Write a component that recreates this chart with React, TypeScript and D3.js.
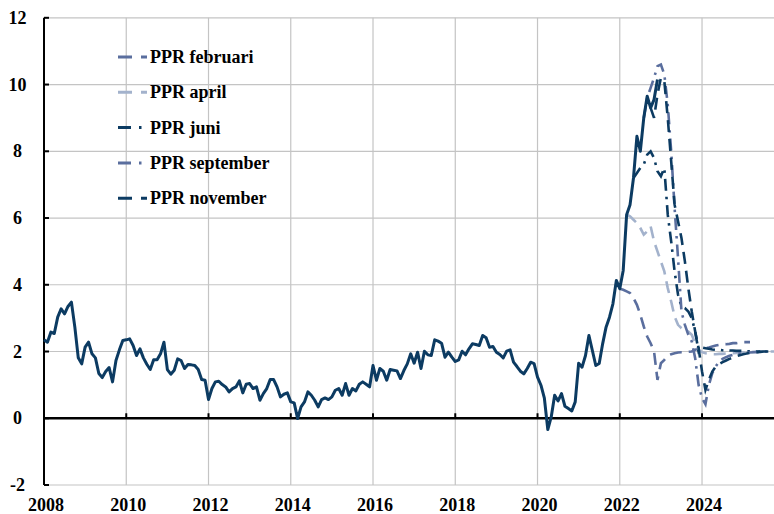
import React from 'react';
import * as d3 from 'd3';

// ---- data ----
const START_YEAR = 2008; // monthly series, index 0 = Jan 2008
const YEAR_TICKS = [2008, 2010, 2012, 2014, 2016, 2018, 2020, 2022, 2024];
const Y_TICKS = [-2, 0, 2, 4, 6, 8, 10, 12];

const OUTCOME = [
  2.35, 2.28, 2.58, 2.54, 3.03, 3.28, 3.13, 3.35, 3.48, 2.73, 1.81, 1.63,
  2.13, 2.28, 1.93, 1.81, 1.34, 1.22, 1.4, 1.52, 1.09, 1.73, 2.05, 2.33,
  2.35, 2.38, 2.18, 1.88, 2.08, 1.81, 1.62, 1.46, 1.75, 1.75, 1.93, 2.28,
  1.46, 1.32, 1.44, 1.78, 1.73, 1.49, 1.61, 1.6, 1.58, 1.46, 1.16, 1.14,
  0.56, 0.89, 1.09, 1.11, 1.01, 0.94, 0.79, 0.89, 0.94, 1.12, 0.76, 1.02,
  1.04, 0.89, 0.94, 0.54, 0.74, 0.89, 1.16, 1.16, 0.94, 0.64, 0.72, 0.76,
  0.49, 0.46, -0.01, 0.34, 0.49, 0.79, 0.69, 0.54, 0.34, 0.56, 0.61, 0.56,
  0.64, 0.84, 0.89, 0.69, 1.04, 0.69, 0.89, 0.82, 1.02, 1.09, 1.02, 0.94,
  1.58, 1.14, 1.49, 1.41, 1.14, 1.46, 1.44, 1.42, 1.19, 1.43, 1.63, 1.93,
  1.65, 1.98, 1.49, 2.01, 1.9, 1.88, 2.35, 2.31, 2.25, 1.83, 1.98, 1.83,
  1.7, 1.75, 2.01, 1.9, 2.08, 2.23, 2.21, 2.18, 2.48, 2.41, 2.13, 2.15,
  1.98, 1.91, 1.81, 2.01, 2.05, 1.68, 1.55, 1.41, 1.33, 1.49, 1.68, 1.64,
  1.23, 0.99, 0.6, -0.34, 0.04, 0.69, 0.52, 0.74, 0.36, 0.29, 0.22, 0.49,
  1.65, 1.53, 1.88, 2.48, 2.03, 1.58, 1.64, 2.23, 2.73, 3.03, 3.43, 4.13,
  3.88, 4.43, 6.1, 6.4, 7.2, 8.45, 8.0, 9.0, 9.65, 9.3, 9.55, 10.15,
];

const PPR_FEB_START = 168;
const PPR_FEB = [
  3.88, 3.85, 3.8, 3.75, 3.6, 3.4, 3.1, 2.75, 2.45, 2.25, 2.0, 1.15,
  1.65, 1.75, 1.88, 1.92, 1.95, 1.97, 1.98, 1.98, 1.99, 2.0, 2.05, 2.1,
  2.1, 2.1, 2.12, 2.15, 2.18, 2.2, 2.22, 2.22, 2.23, 2.25, 2.25, 2.27,
  2.28, 2.28, 2.28,
];

const PPR_APR_START = 170;
const PPR_APR = [
  6.1, 6.05, 5.95, 5.85, 5.7, 5.5, 5.6, 5.75, 5.3, 5.0, 4.7, 4.4,
  3.9, 3.5, 3.05, 2.8, 2.7, 2.65, 2.6, 2.5, 2.25, 2.05, 1.98, 1.95,
  1.93, 1.92, 1.92, 1.93, 1.93, 1.94, 1.95, 1.95, 1.96, 1.97, 1.97, 1.98,
  1.98, 1.99, 2.0, 2.0, 2.0, 2.0, 2.0, 2.0,
];

const PPR_JUN_START = 172;
const PPR_JUN = [
  7.2, 7.35, 7.5, 7.6, 7.9, 8.0, 7.8, 7.4, 7.25, 7.5, 6.1, 5.3,
  4.4, 3.7, 3.35, 3.3, 3.2, 3.0, 2.6, 2.0, 2.12, 2.1, 2.08, 2.06,
  2.05, 2.05, 2.04, 2.04, 2.03, 2.03, 2.02, 2.02, 2.02, 2.01, 2.01, 2.0,
  2.0, 2.0,
];

const PPR_SEP_START = 175;
const PPR_SEP = [
  9.0, 9.6, 9.9, 10.2, 10.55, 10.6, 10.3, 9.4, 8.0, 6.3, 4.8, 3.2,
  2.8, 2.5, 2.3, 1.8, 1.0, 0.6, 0.42, 1.0, 1.35, 1.55, 1.7, 1.78,
  1.83, 1.87, 1.9, 1.92, 1.94, 1.95, 1.96, 1.97, 1.98, 1.98, 1.99, 2.0,
  2.0, 2.0,
];

const PPR_NOV_START = 177;
const PPR_NOV = [
  9.3, 9.0, 9.7, 10.2, 10.1, 9.0, 7.7, 6.4, 5.9, 5.4, 4.7, 3.9,
  3.2, 2.6, 2.1, 1.4, 0.85, 1.15, 1.4, 1.55, 1.62, 1.68, 1.73, 1.78,
  1.82, 1.86, 1.89, 1.92, 1.94, 1.96, 1.97, 1.98, 1.99, 2.0, 2.0, 2.0,
  2.0,
];

const LEGEND_NAMES = ['PPR februari', 'PPR april', 'PPR juni', 'PPR september', 'PPR november'];

// ---- styles ----
const DARK = '#0c3b62';
const MID = '#5a6e9e';
const LIGHT = '#a3b2cc';
const DASH = '12,7';
const DASHDOT = '12,6,2.5,6';

const FORECASTS = [
  { name: LEGEND_NAMES[0], start: PPR_FEB_START, values: PPR_FEB, color: MID, dash: DASH, legendDash: '14,9' },
  { name: LEGEND_NAMES[1], start: PPR_APR_START, values: PPR_APR, color: LIGHT, dash: DASH, legendDash: '14,9' },
  { name: LEGEND_NAMES[2], start: PPR_JUN_START, values: PPR_JUN, color: DARK, dash: DASHDOT, legendDash: '13,8,2.5,8' },
  { name: LEGEND_NAMES[3], start: PPR_SEP_START, values: PPR_SEP, color: MID, dash: DASHDOT, legendDash: '13,8,2.5,8' },
  { name: LEGEND_NAMES[4], start: PPR_NOV_START, values: PPR_NOV, color: DARK, dash: DASH, legendDash: '14,9' },
];

export default function App() {
  const W = 774;
  const H = 514;
  const x = d3.scaleLinear().domain([2008, 2025.75]).range([44, 774]);
  const y = d3.scaleLinear().domain([-2, 12]).range([485, 17.8]);
  const t = (i: number) => START_YEAR + i / 12;
  const line = d3
    .line<[number, number]>()
    .x((d) => x(d[0]))
    .y((d) => y(d[1]));

  const outcomePts: [number, number][] = OUTCOME.map((v, i) => [t(i), v]);
  const font = "'Liberation Serif', 'Times New Roman', serif";
  const [x0, x1] = x.range();
  const [yb, yt] = y.range();

  return (
    <svg
      width={W}
      height={H}
      style={{ position: 'absolute', left: 0, top: 0, background: '#fff' }}
      fontFamily={font}
    >
      {/* grid */}
      {Y_TICKS.map((v) => (
        <line key={'gy' + v} x1={x0} x2={x1} y1={y(v)} y2={y(v)} stroke="#c4c4c4" strokeWidth={1.2} />
      ))}
      {YEAR_TICKS.filter((yr) => yr > 2008).map((yr) => (
        <line key={'gx' + yr} x1={x(yr)} x2={x(yr)} y1={yt} y2={yb} stroke="#c4c4c4" strokeWidth={1.2} />
      ))}

      {/* axes */}
      <line x1={x0} x2={x0} y1={yt} y2={yb} stroke="#000" strokeWidth={2} />
      {Y_TICKS.map((v) => (
        <line key={'ty' + v} x1={x0} x2={x0 + 5} y1={y(v)} y2={y(v)} stroke="#000" strokeWidth={2} />
      ))}
      <line x1={x0} x2={x1} y1={y(0)} y2={y(0)} stroke="#000" strokeWidth={2.6} />
      {YEAR_TICKS.filter((yr) => yr > 2008).map((yr) => (
        <line key={'tx' + yr} x1={x(yr)} x2={x(yr)} y1={y(0)} y2={y(0) - 5} stroke="#000" strokeWidth={2} />
      ))}

      {/* tick labels */}
      {Y_TICKS.map((v) => (
        <text key={'ly' + v} x={17.5} y={y(v) + 6} textAnchor="middle" fontSize={18} fontWeight="bold" fill="#000">
          {v}
        </text>
      ))}
      {YEAR_TICKS.map((yr) => (
        <text key={'lx' + yr} x={x(yr) + 2} y={511} textAnchor="middle" fontSize={18} fontWeight="bold" fill="#000">
          {yr}
        </text>
      ))}

      {/* forecasts */}
      {FORECASTS.map((f) => (
        <path
          key={f.name}
          d={line(f.values.map((v, i) => [t(f.start + i), v] as [number, number])) || ''}
          fill="none"
          stroke={f.color}
          strokeWidth={2.6}
          strokeDasharray={f.dash}
        />
      ))}

      {/* outcome */}
      <path d={line(outcomePts) || ''} fill="none" stroke={DARK} strokeWidth={3} strokeLinejoin="round" />

      {/* legend */}
      {FORECASTS.map((f, i) => {
        const cy = 57 + i * 35.3;
        return (
          <g key={'lg' + f.name}>
            <line x1={118} x2={147} y1={cy} y2={cy} stroke={f.color} strokeWidth={3} strokeDasharray={f.legendDash} />
            <text x={150} y={cy + 6} fontSize={18} fontWeight="bold" fill="#000">
              {f.name}
            </text>
          </g>
        );
      })}
    </svg>
  );
}
